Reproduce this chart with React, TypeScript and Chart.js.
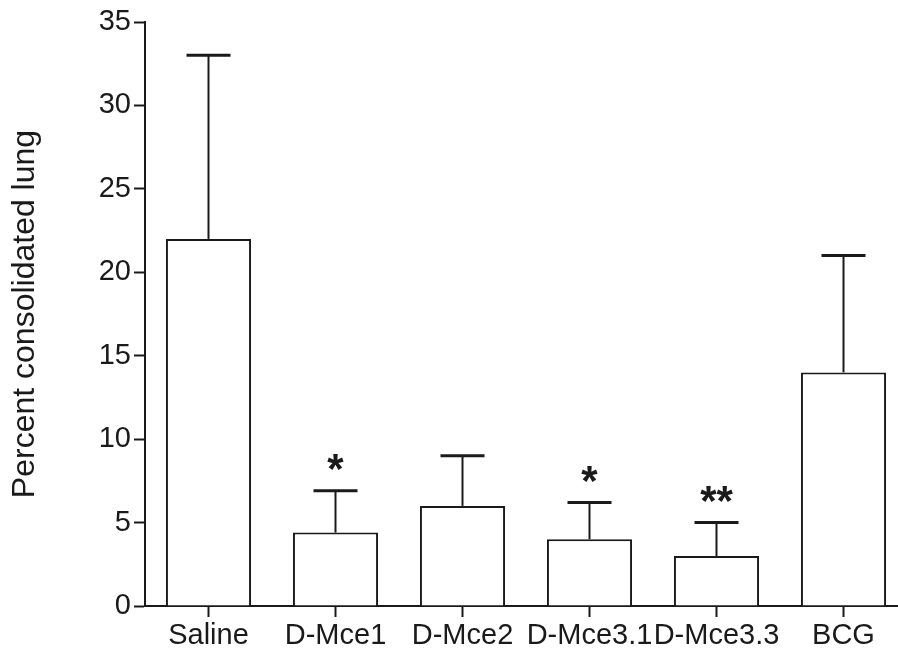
import React, { useEffect, useRef } from "react";
import { Chart, registerables } from "chart.js";

Chart.register(...registerables);

const categories = ["Saline", "D-Mce1", "D-Mce2", "D-Mce3.1", "D-Mce3.3", "BCG"];
const means = [22, 4.4, 6.0, 4.0, 3.0, 14];
const errorTops = [33, 6.9, 9.0, 6.2, 5.0, 21];
const significance = ["", "*", "", "*", "**", ""];
const yTicks = [0, 5, 10, 15, 20, 25, 30, 35];
const yTitle = "Percent consolidated lung";

const INK = "#1a1a1a";
const FONT = "'Liberation Sans', Arial, Helvetica, sans-serif";

const errorBarPlugin = {
  id: "errorBars",
  afterDatasetsDraw(chart: any) {
    const { ctx, scales } = chart;
    const x = scales.x;
    const y = scales.y;
    ctx.save();
    ctx.strokeStyle = INK;
    ctx.fillStyle = INK;
    errorTops.forEach((top, i) => {
      const cx = x.getPixelForValue(i);
      const yMean = y.getPixelForValue(means[i]);
      const yTop = y.getPixelForValue(top);
      ctx.lineWidth = 2;
      ctx.beginPath();
      ctx.moveTo(cx, yMean);
      ctx.lineTo(cx, yTop);
      ctx.stroke();
      ctx.lineWidth = 3;
      ctx.beginPath();
      ctx.moveTo(cx - 22, yTop);
      ctx.lineTo(cx + 22, yTop);
      ctx.stroke();
      const s = significance[i];
      if (s) {
        ctx.font = `bold 42px ${FONT}`;
        ctx.textAlign = "center";
        ctx.textBaseline = "alphabetic";
        ctx.fillText(s, cx, yTop - 8);
      }
    });
    ctx.restore();
  },
};

export default function App() {
  const ref = useRef<HTMLCanvasElement | null>(null);
  useEffect(() => {
    if (!ref.current) return;
    const chart = new Chart(ref.current, {
      type: "bar",
      data: {
        labels: categories,
        datasets: [
          {
            data: means,
            backgroundColor: "#ffffff",
            borderColor: INK,
            borderWidth: 2,
            categoryPercentage: 1,
            barPercentage: 0.67,
          },
        ],
      },
      options: {
        responsive: false,
        animation: false,
        devicePixelRatio: 1,
        layout: { padding: { top: 22, right: 0, left: 0, bottom: 0 } },
        plugins: { legend: { display: false }, tooltip: { enabled: false } },
        scales: {
          x: {
            offset: true,
            grid: {
              offset: false,
              drawOnChartArea: false,
              drawTicks: true,
              tickLength: 11,
              tickWidth: 2,
              tickColor: INK,
            },
            border: { display: true, color: INK, width: 2 },
            ticks: {
              autoSkip: false,
              maxRotation: 0,
              minRotation: 0,
              padding: 2,
              color: INK,
              font: { family: FONT, size: 29 },
            },
            afterFit(scale: any) {
              scale.height = 45;
            },
          },
          y: {
            min: 0,
            max: 35,
            afterBuildTicks(scale: any) {
              scale.ticks = yTicks.map((v) => ({ value: v }));
            },
            grid: {
              drawOnChartArea: false,
              drawTicks: true,
              tickLength: 11,
              tickWidth: 2,
              tickColor: INK,
            },
            border: { display: true, color: INK, width: 2 },
            ticks: {
              padding: 3,
              color: INK,
              font: { family: FONT, size: 29 },
            },
            title: {
              display: true,
              text: yTitle,
              color: INK,
              font: { family: FONT, size: 32 },
              padding: { top: 6, bottom: 0 },
            },
            afterFit(scale: any) {
              scale.width = 145;
            },
          },
        },
      },
      plugins: [errorBarPlugin],
    });
    return () => chart.destroy();
  }, []);
  return (
    <div
      style={{
        position: "fixed",
        left: 0,
        top: 0,
        width: 898,
        height: 651,
        overflow: "hidden",
        background: "#fff",
      }}
    >
      <canvas ref={ref} width={907} height={651} style={{ display: "block" }} />
    </div>
  );
}
